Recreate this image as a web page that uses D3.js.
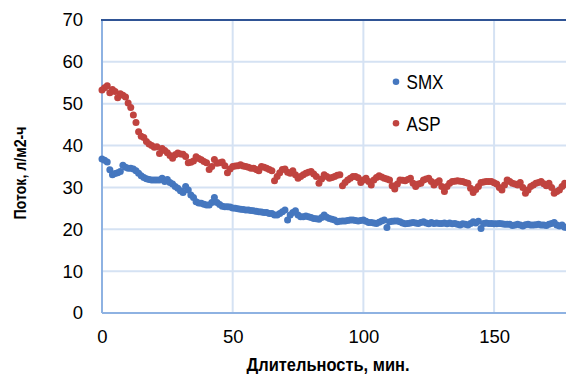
<!DOCTYPE html>
<html>
<head>
<meta charset="utf-8">
<script src="https://cdn.jsdelivr.net/npm/d3@7"></script>
<style>
  html, body { margin: 0; padding: 0; background: #fff; }
  svg { display: block; font-family: "Liberation Sans", Arial, sans-serif; }
</style>
</head>
<body>
<svg id="chart" width="566" height="374"></svg>
<script>
// Permeate flux (l/m2·h) sampled once per minute
const seriesNames = ["SMX", "ASP"];
const seriesColors = ["#4577BF", "#C0433F"];

const smx = [
  36.8, 36.5, 36.1, 34.2, 33.0, 33.3, 33.5, 33.8, 35.3, 34.8,
  34.6, 34.6, 34.4, 34.0, 33.4, 32.8, 32.4, 32.1, 31.9, 31.8,
  31.8, 31.8, 31.8, 32.2, 31.4, 31.9, 31.2, 30.8, 30.2, 29.8,
  29.2, 28.8, 30.2, 29.4, 28.2, 27.6, 26.6, 26.3, 26.2, 26.0,
  25.8, 25.8, 26.4, 27.6, 26.4, 25.9, 25.5, 25.4, 25.4, 25.3,
  25.1, 25.0, 24.9, 24.8, 24.7, 24.6, 24.6, 24.5, 24.4, 24.3,
  24.2, 24.1, 24.0, 24.0, 23.8, 23.8, 23.4, 23.4, 23.8, 24.2,
  24.6, 22.2, 23.4, 24.0, 24.4, 23.4, 23.0, 23.0, 23.2, 23.0,
  22.8, 22.6, 22.5, 22.4, 22.8, 23.4, 22.9, 22.6, 22.4, 22.2,
  21.8, 21.9, 22.0, 22.0, 22.1, 22.2, 22.2, 22.1, 22.0, 22.1,
  22.2, 21.9, 21.6, 21.6, 21.5, 21.4, 21.7, 22.0, 22.2, 20.4,
  21.8, 21.9, 22.0, 22.0, 21.8, 21.5, 21.3, 21.4, 21.5, 21.6,
  21.5, 21.4, 21.6, 21.8, 21.5, 21.3, 21.6, 21.4, 21.5, 21.4,
  21.4, 21.5, 21.3, 21.5, 21.3, 21.4, 21.2, 21.0, 21.3, 21.2,
  21.0, 21.4, 21.8, 21.5, 21.9, 20.2, 21.4, 21.5, 21.4, 21.4,
  21.3, 21.3, 21.4, 21.3, 21.2, 21.2, 21.2, 20.9, 21.0, 21.2,
  21.0, 20.8, 21.1, 21.2, 21.0, 21.0, 21.1, 21.2, 21.0, 21.0,
  20.9, 21.2, 21.4, 21.6, 21.0, 20.8, 21.0, 20.5, 20.4
];

const asp = [
  53.3, 53.8, 54.3, 52.6, 53.4, 52.9, 51.4, 52.4, 52.0, 51.6,
  50.2, 49.1, 47.3, 45.5, 43.3, 42.2, 41.9, 41.0, 40.4, 40.0,
  39.6, 39.7, 38.1, 39.3, 38.8, 38.3, 37.6, 37.0, 37.8, 38.2,
  38.0, 37.9, 37.4, 35.9, 36.0, 36.3, 37.3, 36.9, 36.6, 36.2,
  35.9, 34.3, 35.0, 36.7, 35.8, 35.9, 36.1, 35.2, 33.5, 34.4,
  35.0, 35.1, 35.2, 35.4, 35.1, 35.0, 34.8, 34.6, 34.6, 34.3,
  34.0, 35.0, 34.8, 34.6, 34.3, 34.0, 31.6, 32.6, 33.5, 34.3,
  34.4, 33.6, 33.4, 34.0, 33.0, 32.2, 32.6, 33.0, 33.4, 33.6,
  33.8, 33.2, 32.6, 31.0, 32.0, 33.0, 32.6, 32.2, 32.4, 32.6,
  32.9, 33.0, 30.4, 31.2, 31.8, 32.2, 32.6, 32.6, 32.3, 31.2,
  31.8, 32.2, 31.4, 30.6, 31.8, 32.4, 32.8, 32.5, 32.2, 32.0,
  31.8, 30.4, 29.6, 30.8, 31.8, 31.7, 31.6, 31.9, 32.2, 31.0,
  30.2, 30.8, 31.0, 31.8, 32.0, 32.2, 31.4, 30.6, 31.2, 31.6,
  30.2, 29.0, 30.2, 31.0, 31.4, 31.5, 31.6, 31.5, 31.4, 31.2,
  31.0, 29.8, 28.8, 29.5, 30.2, 31.2, 31.3, 31.4, 31.4, 31.4,
  31.1, 30.8, 30.0, 29.4, 30.6, 31.8, 31.4, 31.0, 30.8, 30.6,
  31.2, 30.0, 28.6, 29.4, 30.2, 30.6, 31.0, 31.2, 31.4, 30.9,
  30.4, 31.0, 30.0, 28.6, 29.0, 29.4, 30.2, 31.0, 30.6
];

// one reading per minute, starting at t = 0
const minutes = smx.map((_, i) => i);

const xTicks = [0, 50, 100, 150];
const yTicks = [0, 10, 20, 30, 40, 50, 60, 70];
const xTitle = "Длительность, мин.";
const yTitle = "Поток, л/м2-ч";

const svg = d3.select("#chart");

const x = d3.scaleLinear().domain([0, 180]).range([102, 572.5]);
const y = d3.scaleLinear().domain([0, 70]).range([313, 20]);

// gridlines
const grid = svg.append("g");
grid.selectAll("line.h")
  .data(yTicks.filter(v => v > 0 && v < 70))
  .join("line")
  .attr("x1", x(0)).attr("x2", 566)
  .attr("y1", d => y(d)).attr("y2", d => y(d))
  .attr("stroke", "#D5E2F3").attr("stroke-width", 2);
grid.selectAll("line.v")
  .data(xTicks.filter(v => v > 0))
  .join("line")
  .attr("x1", d => x(d)).attr("x2", d => x(d))
  .attr("y1", y(70)).attr("y2", y(0))
  .attr("stroke", "#D5E2F3").attr("stroke-width", 2);

// axis lines
svg.append("line")
  .attr("x1", x(0)).attr("x2", 566).attr("y1", y(0)).attr("y2", y(0))
  .attr("stroke", "#8EB2E2").attr("stroke-width", 2);
svg.append("line")
  .attr("x1", x(0)).attr("x2", x(0)).attr("y1", y(70)).attr("y2", y(0))
  .attr("stroke", "#8EB2E2").attr("stroke-width", 2);
svg.append("line")
  .attr("x1", x(0) - 1).attr("x2", 566).attr("y1", y(70)).attr("y2", y(70))
  .attr("stroke", "#2F5495").attr("stroke-width", 2);

// tick labels
const yAxis = d3.axisLeft(y).tickValues(yTicks).tickSize(0).tickPadding(19);
svg.append("g").attr("transform", `translate(${x(0)},0)`).call(yAxis)
  .call(g => g.select(".domain").remove())
  .selectAll("text")
  .attr("font-size", 18.5).attr("font-family", "Liberation Sans, Arial, sans-serif")
  .attr("fill", "#000");

const xAxis = d3.axisBottom(x).tickValues(xTicks).tickSize(0).tickPadding(17);
svg.append("g").attr("transform", `translate(0,${y(0)})`).call(xAxis)
  .call(g => g.select(".domain").remove())
  .selectAll("text")
  .attr("font-size", 18.5).attr("font-family", "Liberation Sans, Arial, sans-serif")
  .attr("fill", "#000");

// axis titles
svg.append("text")
  .attr("x", 328).attr("y", 370.5)
  .attr("text-anchor", "middle")
  .attr("font-size", 17.5).attr("font-weight", "bold")
  .attr("textLength", 163).attr("lengthAdjust", "spacingAndGlyphs")
  .text(xTitle);
svg.append("text")
  .attr("transform", "translate(26,173) rotate(-90)")
  .attr("text-anchor", "middle")
  .attr("font-size", 17).attr("font-weight", "bold")
  .attr("textLength", 93).attr("lengthAdjust", "spacingAndGlyphs")
  .text(yTitle);

// scatter points
const plot = svg.append("g");
[smx, asp].forEach((vals, k) => {
  plot.append("g").selectAll("circle")
    .data(vals)
    .join("circle")
    .attr("cx", (d, i) => x(minutes[i]))
    .attr("cy", d => y(d))
    .attr("r", 3.5)
    .attr("fill", seriesColors[k]);
});

// legend
const legend = svg.append("g");
const legendRows = [{ cy: 81.7, base: 89.3, w: 37 }, { cy: 123.3, base: 131, w: 34 }];
seriesNames.forEach((name, k) => {
  legend.append("circle")
    .attr("cx", 396).attr("cy", legendRows[k].cy).attr("r", 3.3)
    .attr("fill", seriesColors[k]);
  legend.append("text")
    .attr("x", 406.5).attr("y", legendRows[k].base)
    .attr("font-size", 21)
    .attr("textLength", legendRows[k].w).attr("lengthAdjust", "spacingAndGlyphs")
    .text(name);
});
</script>
</body>
</html>
